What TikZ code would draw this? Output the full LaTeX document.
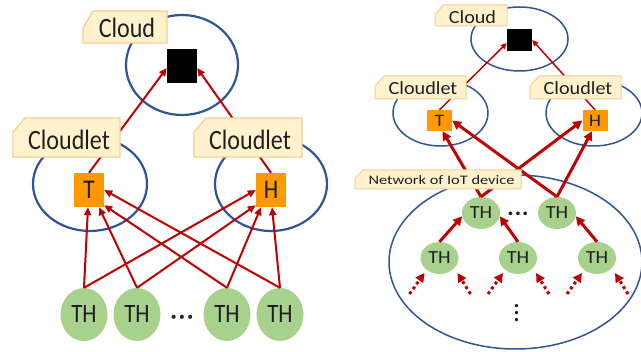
\documentclass[tikz,border=0pt]{standalone}
\usepackage{fontspec}
\usetikzlibrary{shapes.geometric,arrows.meta,calc}
\newfontfamily\fL[FakeStretch=0.86]{Carlito}
\newfontfamily\fR[FakeStretch=1.09]{Carlito}
\newfontfamily\fN[FakeStretch=1.26]{Carlito}
\newfontfamily\fD{DejaVu Sans}
\definecolor{lblfill}{HTML}{FFF2CC}
\definecolor{lbldraw}{HTML}{F5CF98}
\definecolor{blu}{HTML}{2F5597}
\definecolor{redA}{HTML}{C00000}
\definecolor{orng}{HTML}{FF9900}
\definecolor{grn}{HTML}{A9D18E}
\definecolor{txt}{HTML}{1F1F1F}
\begin{document}
\begin{tikzpicture}[x=1pt,y=-1pt,
 ring/.style={draw=blu, line width=2.2pt, ellipse, inner sep=0pt},
 ringR/.style={draw=blu, line width=1.5pt, ellipse, inner sep=0pt},
 sq/.style={fill=black, inner sep=0pt},
 ob/.style={fill=orng, inner sep=0pt, text=txt},
 th/.style={fill=grn, ellipse, inner sep=0pt, text=txt},
 arrL/.style={draw=redA, line width=2pt, -{Triangle[length=8pt,width=7pt]}},
 arrRt/.style={draw=redA, line width=1.5pt, -{Triangle[length=6pt,width=5.5pt]}},
 arrRb/.style={draw=redA, line width=3pt, -{Triangle[length=9pt,width=9pt]}},
 dotarr/.style={draw=redA, line width=3pt, dash pattern=on 3pt off 3pt, -{Triangle[length=9pt,width=9pt]}},
 lblshape/.style={fill=lblfill, draw=lbldraw, line width=1.3pt, line join=miter},
 lbltxt/.style={inner sep=0pt, anchor=base, text=txt},
 fontLL/.style={font=\fL\fontsize{28}{28}\selectfont},
 fontRL/.style={font=\fR\fontsize{18.5}{18.5}\selectfont},
]
\useasboundingbox[fill=white] (0,0) rectangle (641,352);

% ---------------- left panel ----------------
\node[ring, minimum width=112pt, minimum height=100pt] (eCloudL) at (182,65) {};
\node[ring, minimum width=114pt, minimum height=94pt] (eLetT) at (90,184) {};
\node[ring, minimum width=112pt, minimum height=94pt] (eLetH) at (271,184) {};
\node[sq, minimum width=30pt, minimum height=34pt] (cL) at (182,66) {};
\node[ob, minimum width=30pt, minimum height=34pt, font=\fL\fontsize{27}{27}\selectfont] (TL) at (89,190) {T};
\node[ob, minimum width=30pt, minimum height=34pt, font=\fL\fontsize{27}{27}\selectfont] (HL) at (271,190) {H};
\foreach \n/\x in {a1/84,a2/137,a3/227,a4/280}
  \node[th, minimum width=47pt, minimum height=53pt, font=\fL\fontsize{26.5}{26.5}\selectfont] (\n) at (\x,314.5) {TH};
\node[inner sep=0pt, font=\fD\fontsize{14}{14}\selectfont, text=txt] (dotsL) at (182,319) {•••};

\draw[arrL] (a1.north) -- ([xshift=-1pt]TL.south);
\draw[arrL] (a2.north) -- ([xshift=10pt]TL.south);
\draw[arrL] (a3.north) -- ([yshift=2pt]TL.south east);
\draw[arrL] (a4.north) -- (TL.east);
\draw[arrL] (a1.north) -- (HL.west);
\draw[arrL] (a2.north) -- ([yshift=2pt]HL.south west);
\draw[arrL] (a3.north) -- ([xshift=-10pt]HL.south);
\draw[arrL] (a4.north) -- ([xshift=1pt]HL.south);
\draw[arrL] (TL.north) -- ([yshift=-2pt]cL.west);
\draw[arrL] (HL.north) -- ([yshift=-2pt]cL.east);

\filldraw[lblshape] (83,43) -- (83,28) -- (93,11) -- (167,11) -- (167,43) -- cycle;
\node[lbltxt, fontLL] (tCloudL) at (127,38) {Cloud};
\filldraw[lblshape] (13,157) -- (13,132) -- (25,118) -- (120,118) -- (120,157) -- cycle;
\node[lbltxt, fontLL] (tLetT) at (69,149.3) {Cloudlet};
\filldraw[lblshape] (194,157) -- (194,132) -- (206,118) -- (302,118) -- (302,157) -- cycle;
\node[lbltxt, fontLL] (tLetH) at (250,149.3) {Cloudlet};

% ---------------- right panel ----------------
\node[ringR, minimum width=97pt, minimum height=64pt] (eCloudR) at (519.5,39) {};
\node[ringR, minimum width=95pt, minimum height=66pt] (eRT) at (440.5,113) {};
\node[ringR, minimum width=96pt, minimum height=66pt] (eRH) at (594,113) {};
\node[ringR, minimum width=253pt, minimum height=174pt] (eNet) at (515.5,262) {};
\node[sq, minimum width=25pt, minimum height=22pt] (cR) at (519.5,40) {};
\node[ob, minimum width=25pt, minimum height=21pt, font=\fR\fontsize{17.5}{17.5}\selectfont] (TR) at (439.5,120.5) {T};
\node[ob, minimum width=25pt, minimum height=21pt, font=\fR\fontsize{17.5}{17.5}\selectfont] (HR) at (595,120.5) {H};
\foreach \n/\x/\y in {b1/481/213,b2/557/213,c1/439.5/258,c2/518/258,c3/597/258}
  \node[th, minimum width=38pt, minimum height=32pt, fontRL] (\n) at (\x,\y) {TH};
\node[inner sep=0pt, font=\fD\fontsize{12.5}{12.5}\selectfont, text=txt] (dotsR) at (518,215) {•••};
\node[inner sep=0pt, rotate=90, font=\fD\fontsize{11.5}{11.5}\selectfont, text=txt] (vdotsR) at (518,313) {•••};

\draw[arrRt] (TR.north) -- ([yshift=-3pt]cR.west);
\draw[arrRt] (HR.north) -- (cR.east);
\draw[arrRb] (b1.north) -- ([xshift=3pt]TR.south);
\draw[arrRb] (b1.north) -- (HR.west);
\draw[arrRb] (b2.north) -- (TR.east);
\draw[arrRb] (b2.north) -- ([xshift=-3pt]HR.south);
\draw[arrRb] (c1.north) -- (b1.190);
\draw[arrRb] (c2.north) -- (b1.350);
\draw[arrRb] (c3.north) -- (b2.350);

\foreach \n in {c1,c2,c3}{
  \coordinate (\n ls) at ($(\n)+(-30,36)$);
  \coordinate (\n le) at ($(\n)+(-15,15)$);
  \coordinate (\n rs) at ($(\n)+(31,36)$);
  \coordinate (\n re) at ($(\n)+(18,15)$);
  \draw[dotarr] (\n ls) -- (\n le);
  \draw[dotarr] (\n rs) -- (\n re);
}

\filldraw[lblshape, line width=1pt] (435,26) -- (435,15) -- (443,5) -- (507,5) -- (507,26) -- cycle;
\node[lbltxt, fontRL] (tCloudR) at (472.5,23.3) {Cloud};
\filldraw[lblshape, line width=1pt] (375,99) -- (375,86) -- (384,76) -- (466,76) -- (466,99) -- cycle;
\node[lbltxt, fontRL] (tRT) at (423,94.3) {Cloudlet};
\filldraw[lblshape, line width=1pt] (530,99) -- (530,86) -- (539,76) -- (621,76) -- (621,99) -- cycle;
\node[lbltxt, fontRL] (tRH) at (578,94.3) {Cloudlet};
\filldraw[lblshape, line width=1pt] (355,189) -- (355,178) -- (363,170) -- (521,170) -- (521,189) -- cycle;
\node[lbltxt, font=\fN\fontsize{13}{13}\selectfont] (tNet) at (441.5,184.3) {Network of IoT device};
\end{tikzpicture}
\end{document}
